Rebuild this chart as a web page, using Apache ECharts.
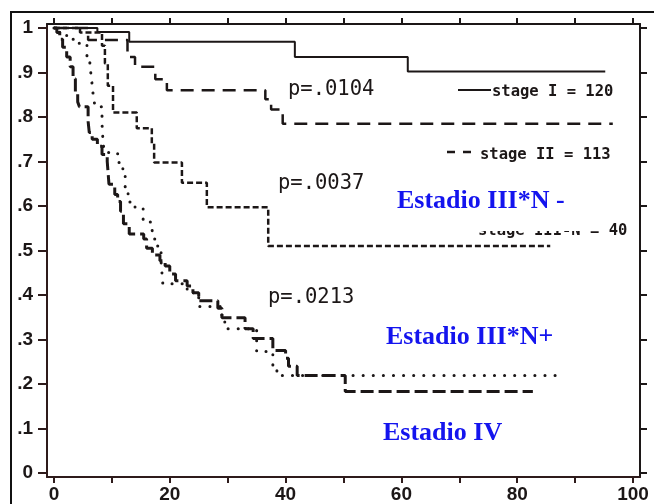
<!DOCTYPE html>
<html><head><meta charset="utf-8">
<script src="https://cdn.jsdelivr.net/npm/echarts@6/dist/echarts.min.js"></script>
<style>html,body{margin:0;padding:0;background:#fff}#c{width:654px;height:504px}</style>
</head><body><div id="c"></div>
<script>
// ---- data ----
const timeTicks = [0,10,20,30,40,50,60,70,80,90,100];
const timeLabels = [0,20,40,60,80,100];
const survTicks = [0,0.1,0.2,0.3,0.4,0.5,0.6,0.7,0.8,0.9,1];

const stageITimes = [0,7.5,13,41.6,61.1,95.2];
const stageISurv  = [1,0.991,0.969,0.935,0.902,0.902];

const stageIITimes = [0,5.9,12.7,14,17.5,19.5,36.5,37.5,39.5,96.5];
const stageIISurv  = [1,0.973,0.935,0.913,0.885,0.86,0.84,0.817,0.785,0.785];

const stageIIINnegTimes = [0,4.5,8.3,8.8,9.3,10.2,14.3,16.9,17.3,22.1,26.4,37,85.7];
const stageIIINnegSurv  = [1,0.99,0.96,0.92,0.87,0.81,0.775,0.74,0.698,0.652,0.597,0.51,0.51];

const stageIIINposTimes = [0,1,2.2,3.5,5.7,6.2,6.4,6.6,6.8,7.1,8.3,8.5,8.8,11,11.9,12.3,12.8,14,15.4,16.9,17.1,17.8,18.5,18.8,23,25,29,29.5,35,37.8,38.5,88];
const stageIIINposSurv  = [1,0.99,0.975,0.966,0.935,0.917,0.895,0.872,0.846,0.823,0.785,0.738,0.72,0.698,0.678,0.642,0.609,0.597,0.564,0.553,0.526,0.51,0.474,0.425,0.405,0.374,0.342,0.324,0.273,0.235,0.219,0.219];

const stageIVTimes = [0,0.5,1,1.5,2.2,2.8,3.3,3.7,4.1,4.4,5.9,6.1,6.6,7.5,8.3,9.2,9.5,10.5,11,11.5,12,13,15.5,16,17,18.3,19.2,20,21,23,24,25,28.3,29,33,34.4,37.8,40,40.5,42,50.3,82.7];
const stageIVSurv  = [1,0.99,0.975,0.957,0.935,0.913,0.886,0.855,0.834,0.823,0.79,0.765,0.75,0.734,0.716,0.7,0.649,0.626,0.61,0.588,0.56,0.537,0.526,0.505,0.49,0.477,0.465,0.447,0.432,0.42,0.405,0.387,0.37,0.349,0.324,0.302,0.275,0.258,0.24,0.219,0.183,0.183];

const pValues = ['p=.0104','p=.0037','p=.0213'];
const legendTexts = ['stage I = 120','stage II = 113','stage III-N = 40'];
const groupLabels = ['Estadio III*N -','Estadio III*N+','Estadio IV'];

// ---- chart ----
const zip = (t, s) => t.map((v, i) => [v, s[i]]);
const ink = '#1c1717';
const axisInk = '#2e1b1b';

function km(name, t, s, ls) {
  return { name, type: 'line', step: 'end', showSymbol: false, symbol: 'none',
    data: zip(t, s), lineStyle: Object.assign({ color: ink }, ls), z: 3 };
}

const chart = echarts.init(document.getElementById('c'), null, { renderer: 'canvas' });
const mono = '"DejaVu Sans Mono", monospace';
const serif = '"Liberation Serif", "DejaVu Serif", serif';

chart.setOption({
  animation: false,
  backgroundColor: '#ffffff',
  grid: { left: 47, right: 14, top: 24, bottom: 25, containLabel: false },
  xAxis: [
    { type: 'value', min: -1.2, max: 101.2, position: 'bottom',
      axisLine: { show: true, onZero: false, lineStyle: { color: axisInk, width: 2 } },
      axisTick: { show: true, length: 6, lineStyle: { color: axisInk, width: 2 }, customValues: timeTicks },
      axisLabel: { customValues: timeLabels, margin: 8, color: ink,
        fontFamily: '"Liberation Sans", Arial, sans-serif', fontWeight: 'bold', fontSize: 19 },
      splitLine: { show: false } },
    { type: 'value', min: -1.2, max: 101.2, position: 'top',
      axisLine: { show: true, onZero: false, lineStyle: { color: ink, width: 2 } },
      axisTick: { show: true, length: 6, lineStyle: { color: ink, width: 2 }, customValues: timeTicks },
      axisLabel: { show: false }, splitLine: { show: false } }
  ],
  yAxis: [
    { type: 'value', min: -0.009, max: 1.009, position: 'left',
      axisLine: { show: true, onZero: false, lineStyle: { color: axisInk, width: 2 } },
      axisTick: { show: true, length: 9, lineStyle: { color: axisInk, width: 2 }, customValues: survTicks },
      axisLabel: { customValues: survTicks, margin: 14, color: ink,
        fontFamily: '"Liberation Sans", Arial, sans-serif', fontWeight: 'bold', fontSize: 19,
        formatter: v => (v === 0 ? '0' : v === 1 ? '1' : '.' + Math.round(v * 10)) },
      splitLine: { show: false } },
    { type: 'value', min: -0.009, max: 1.009, position: 'right',
      axisLine: { show: true, onZero: false, lineStyle: { color: ink, width: 2 } },
      axisTick: { show: true, length: 7, lineStyle: { color: ink, width: 2 }, customValues: survTicks },
      axisLabel: { show: false }, splitLine: { show: false } }
  ],
  series: [
    km('stage I', stageITimes, stageISurv, { width: 2, type: 'solid' }),
    km('stage II', stageIITimes, stageIISurv, { width: 2.5, type: [13, 8] }),
    km('stage III N-', stageIIINnegTimes, stageIIINnegSurv, { width: 2.5, type: [6, 3] }),
    km('stage III N+', stageIIINposTimes, stageIIINposSurv, { width: 3, type: [0.1, 10], cap: 'round' }),
    km('stage IV', stageIVTimes, stageIVSurv, { width: 3, type: [13, 5] })
  ],
  graphic: [
    // outer frame of the scan
    { type: 'rect', shape: { x: 11, y: 12, width: 700, height: 600 }, style: { fill: 'none', stroke: '#111', lineWidth: 2 }, z: 1 },
    // p-values
    { type: 'text', x: 288, y: 90, style: { text: pValues[0], font: '20.5px ' + mono, fill: ink, verticalAlign: 'middle' }, z: 10 },
    { type: 'text', x: 278, y: 184, style: { text: pValues[1], font: '20.5px ' + mono, fill: ink, verticalAlign: 'middle' }, z: 10 },
    { type: 'text', x: 268, y: 298, style: { text: pValues[2], font: '20.5px ' + mono, fill: ink, verticalAlign: 'middle' }, z: 10 },
    // legend
    { type: 'line', shape: { x1: 458, y1: 90, x2: 491, y2: 90 }, style: { stroke: ink, lineWidth: 2 }, z: 10 },
    { type: 'text', x: 492, y: 92, style: { text: legendTexts[0], font: 'bold 15.5px ' + mono, fill: ink, verticalAlign: 'middle' }, z: 10 },
    { type: 'line', shape: { x1: 447, y1: 152, x2: 471, y2: 152 }, style: { stroke: ink, lineWidth: 2.5, lineDash: [8, 8] }, z: 10 },
    { type: 'text', x: 480, y: 155, style: { text: legendTexts[1], font: 'bold 15.5px ' + mono, fill: ink, verticalAlign: 'middle' }, z: 10 },
    { type: 'text', x: 478, y: 231, style: { text: legendTexts[2], font: 'bold 15.5px ' + mono, fill: ink, verticalAlign: 'middle' }, z: 10 },
    // white paste-over patch
    { type: 'rect', shape: { x: 465, y: 186, width: 138, height: 45 }, style: { fill: '#fff' }, z: 11 },
    // blue labels
    { type: 'text', x: 397, y: 201, style: { text: groupLabels[0], font: 'bold 26px ' + serif, fill: '#1414ee', verticalAlign: 'middle' }, z: 12 },
    { type: 'text', x: 386, y: 337, style: { text: groupLabels[1], font: 'bold 26px ' + serif, fill: '#1414ee', verticalAlign: 'middle' }, z: 12 },
    { type: 'text', x: 383, y: 433, style: { text: groupLabels[2], font: 'bold 26px ' + serif, fill: '#1414ee', verticalAlign: 'middle' }, z: 12 }
  ]
});
</script>
</body></html>
